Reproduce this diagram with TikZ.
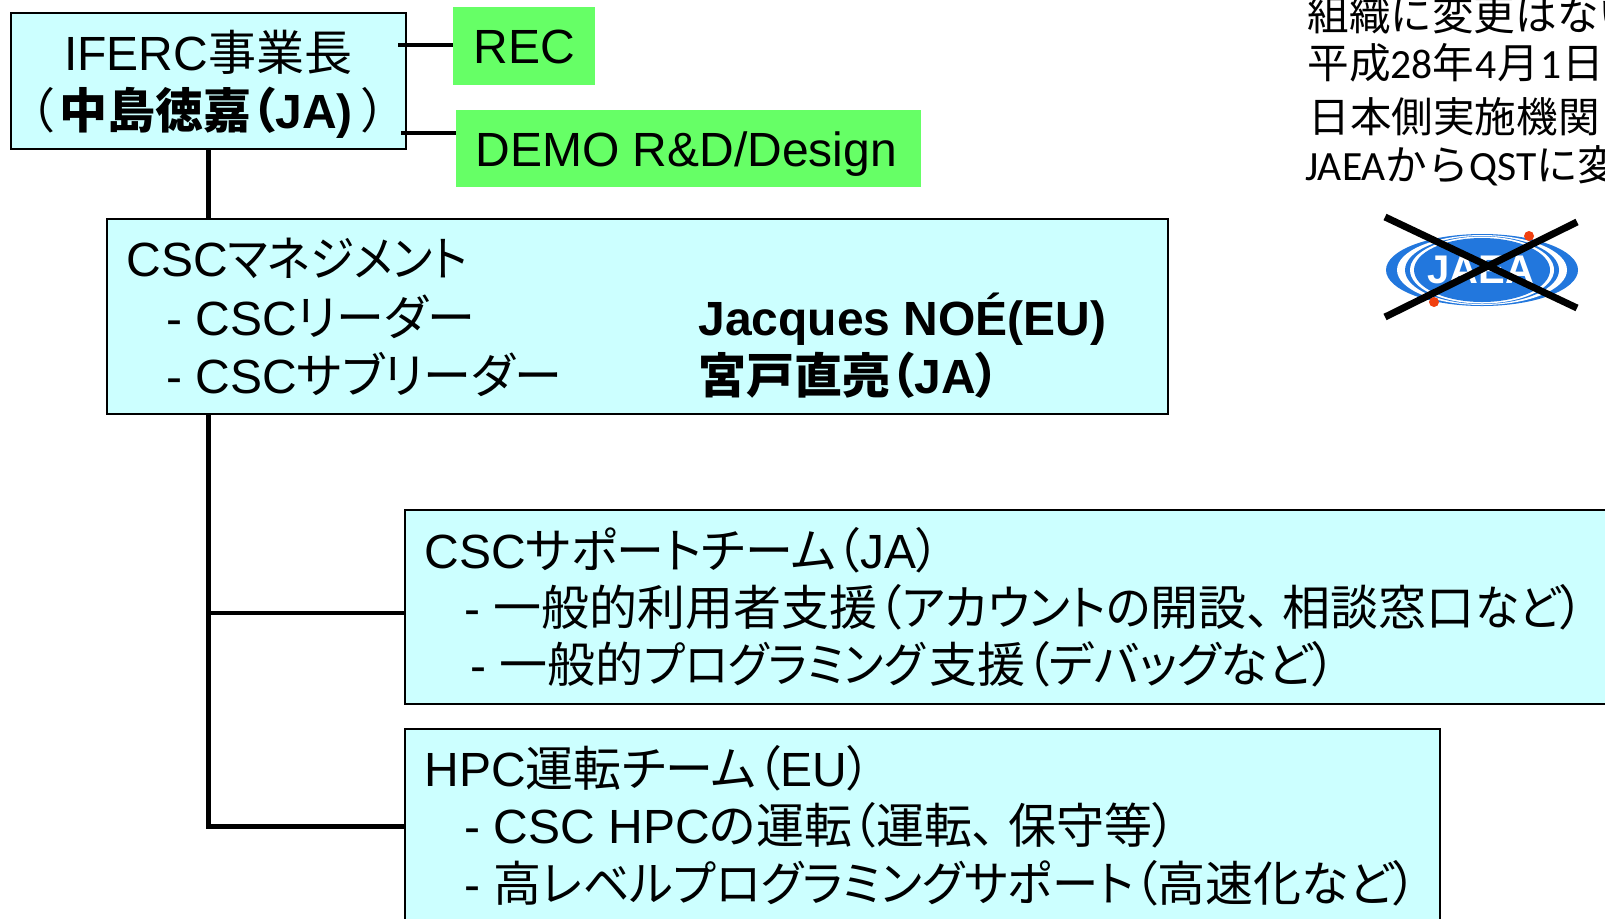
\documentclass[tikz,border=0pt]{standalone}
\usepackage{fontspec}
\usepackage[HTML]{xcolor}
\setmainfont{Liberation Sans}
\newfontfamily\cjk[RawFeature=+palt]{Noto Sans CJK JP}
\newfontfamily\cjkfull{Noto Sans CJK JP}
\newfontfamily\cjknarrow[RawFeature=+palt,FakeStretch=0.93]{Noto Sans CJK JP}
\newfontfamily\cjksnug[RawFeature=+palt,FakeStretch=0.965]{Noto Sans CJK JP}
\newfontfamily\noteltn{Carlito}
\newcommand{\jp}[1]{{\cjk #1}}
\newcommand{\jf}[1]{{\cjkfull #1}}
\newcommand{\kn}[1]{{\cjknarrow #1}}
\newcommand{\ks}[1]{{\cjksnug #1}}
\definecolor{boxcyan}{HTML}{CCFFFF}
\definecolor{boxgreen}{HTML}{66FF66}
\definecolor{logoblue}{HTML}{2277DD}
\definecolor{logored}{HTML}{F04010}
\tikzset{
  cyanbox/.style={draw=black,line width=1pt,fill=boxcyan,inner sep=0pt},
  greenbox/.style={fill=boxgreen,inner sep=0pt},
  txt/.style={anchor=base west,inner sep=0pt,font=\fontsize{24}{28}\selectfont},
  midtxt/.style={anchor=base,inner sep=0pt,font=\fontsize{24}{28}\selectfont},
  notetxt/.style={anchor=base west,inner sep=0pt,font=\fontsize{20.8}{24}\selectfont},
  conn/.style={line width=2.4pt,black},
  crossline/.style={line width=3.5pt,black},
}
\begin{document}
\begin{tikzpicture}[x=0.5pt,y=-0.5pt]
\useasboundingbox (0,0) rectangle (1605,918);
% boxes
\node[cyanbox,minimum width=197.5pt,minimum height=68pt] (head) at (208.5,81) {};
\node[greenbox,minimum width=71pt,minimum height=39pt] (rec) at (524,46) {};
\node[greenbox,minimum width=232.5pt,minimum height=38.5pt] (demo) at (688.5,148.5) {};
\node[cyanbox,minimum width=530.5pt,minimum height=97.5pt] (mgmt) at (637.5,316.5) {};
\node[cyanbox,minimum width=647.5pt,minimum height=97pt] (support) at (1052.5,607) {};
\node[cyanbox,minimum width=517.5pt,minimum height=97.5pt] (hpc) at (922.5,826.5) {};

% connectors
\coordinate (recstub) at (398,45);
\coordinate (demostub) at (401,133);
\coordinate (trunktop) at (mgmt.south -| head.south);
\coordinate (supportjoin) at (405,613);
\draw[conn] (recstub) -- (rec.west |- recstub);
\draw[conn] (demostub) -- (demo.west |- demostub);
\draw[conn] (head.south) -- (head.south |- mgmt.north);
\draw[conn] (trunktop) -- (hpc.west -| trunktop) -- (hpc.west);
\draw[conn] (supportjoin -| trunktop) -- (supportjoin);

% head box
\node[midtxt] (headname) at (208,70) {IFERC\jp{事業長}};
\node[midtxt] (headwho) at (208,128) {\jp{（}\hspace{3pt}\bfseries\jp{中島徳嘉（}JA)\mdseries\hspace{5pt}\jp{）}};
\node[txt] (rectxt) at (473,63) {REC};
\node[txt] (demotxt) at (475,166) {DEMO R\&D/Design};

% management
\node[txt] (mgmta) at (126,276) {CSC\kn{マネジメント}};
\node[txt] (mgmtb) at (166,335) {- CSC\jp{リーダー}};
\node[txt] (mgmtc) at (166,393) {- CSC\jp{サブリーダー}};
\node[txt,font=\fontsize{24}{28}\selectfont\bfseries] (mgmtd) at (698,335) {Jacques NOÉ(EU)};
\node[txt,font=\fontsize{24}{28}\selectfont\bfseries] (mgmte) at (698,393) {\jp{宮戸直亮（}JA\jp{）}};

% support team
\node[txt] (supa) at (424,568) {CSC\jp{サポートチーム（}JA\jp{）}};
\node[txt] (supb) at (464,625) {- \jp{一般的利用者支援（}\ks{アカウントの}\jp{開設、}\hspace{6pt}\jp{相談窓口}\kn{など}\jp{）}};
\node[txt] (supc) at (470,682) {- \jp{一般的}\kn{プログラミング}\hspace{2.5pt}\jp{支援（デバッグなど）}};

% hpc team
\node[txt] (hpca) at (424,786) {HPC\jp{運転チーム（}EU\jp{）}};
\node[txt] (hpcb) at (464,843) {- CSC HPC\jp{の運転（運転、}\hspace{6pt}\jp{保守等）}};
\node[txt] (hpcc) at (464,901) {- \jp{高}\ks{レベルプログラミングサポート}\jp{（高速化など）}};

% note, cut off by the page edge
\node[notetxt] (notea) at (1307,30) {\jf{組織に変更はない}};
\node[notetxt] (noteb) at (1307,78) {\jf{平成}\noteltn 28\jf{年}\hspace{.6pt}4\hspace{.6pt}\jf{月}\hspace{.6pt}1\hspace{.6pt}\jf{日}};
\node[notetxt] (notec) at (1308,132) {\jf{日本側実施機関}};
\node[notetxt] (noted) at (1305,180) {\noteltn JAEA\jf{から}QST\jf{に変}};

% logo
\fill[logoblue] (1482,270) ellipse [x radius=96,y radius=36];
\fill[white] (1482,270) ellipse [x radius=85,y radius=35];
\fill[logoblue] (1482,270) ellipse [x radius=77,y radius=34];
\fill[white] (1482,270) ellipse [x radius=72,y radius=33.5];
\fill[logoblue] (1482,270) ellipse [x radius=68,y radius=32];
\fill[logored] (1529,236) circle [radius=5];
\fill[logored] (1434,302) circle [radius=5];
\node[anchor=center,inner sep=0pt,white,font=\fontsize{20}{20}\selectfont\bfseries] (logotxt) at (1481,270) {JAEA};
\draw[crossline] (1385,217) -- (1577,308);
\draw[crossline] (1385,317) -- (1577,222);
\end{tikzpicture}
\end{document}
